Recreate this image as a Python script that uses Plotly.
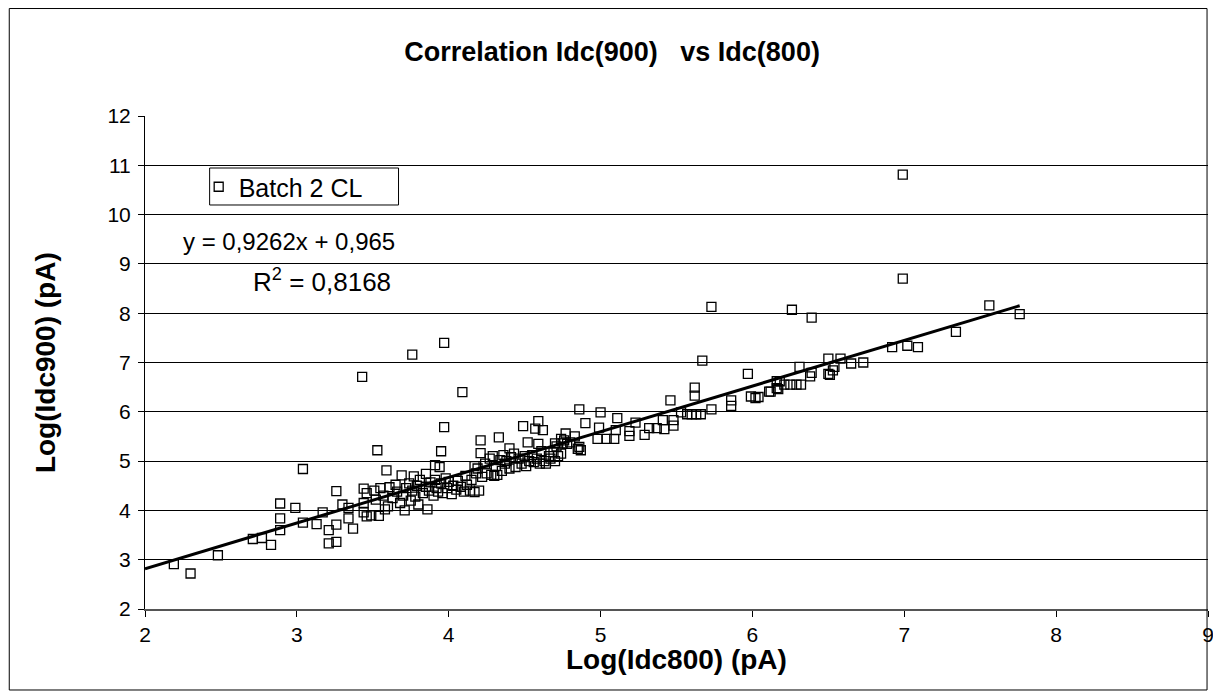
import numpy as np
import plotly.graph_objects as go

# Batch 2 CL: Log(Idc800) vs Log(Idc900)
low_x = [2.19, 2.30, 2.48, 2.71, 2.77, 2.83, 2.89, 2.89, 2.89, 2.99, 3.04, 3.04, 3.13, 3.17,
         3.21, 3.21, 3.26, 3.26, 3.26, 3.30, 3.34, 3.34, 3.37, 3.44, 3.44, 3.44, 3.46, 3.46]
low_y = [2.91, 2.72, 3.09, 3.42, 3.44, 3.30, 4.14, 3.84, 3.60, 4.05, 4.84, 3.75, 3.72, 3.96,
         3.60, 3.33, 4.39, 3.71, 3.36, 4.12, 4.05, 3.84, 3.63, 4.44, 4.15, 3.96, 4.35, 3.88]

upper_x = [3.43, 3.76, 3.97, 4.09, 3.97, 3.53, 3.95, 3.59, 4.21, 4.33, 4.21, 4.49, 4.59, 4.57,
           4.62, 4.52, 4.59, 4.40, 3.69, 3.77, 3.85, 3.91, 4.17]
upper_y = [6.71, 7.16, 7.40, 6.40, 5.69, 5.22, 5.20, 4.81, 5.42, 5.48, 5.16, 5.71, 5.81, 5.66,
           5.63, 5.38, 5.35, 5.26, 4.71, 4.69, 4.74, 4.92, 4.90]

band_x = [3.49, 3.51, 3.52, 3.54, 3.55, 3.57, 3.58, 3.60, 3.61, 3.63, 3.65, 3.66, 3.68, 3.70,
          3.71, 3.72, 3.74, 3.75, 3.76, 3.78, 3.79, 3.80, 3.81, 3.83, 3.85, 3.86, 3.87, 3.88,
          3.90, 3.91, 3.92, 3.93, 3.94, 3.95, 3.96, 3.98, 3.99, 4.00, 4.02, 4.03, 4.05, 4.06,
          4.08, 4.10, 4.11, 4.12, 4.14, 4.15, 4.17, 4.18, 4.19, 4.20, 4.22, 4.24, 4.25, 4.27,
          4.28, 4.29, 4.30, 4.31, 4.32, 4.34, 4.35, 4.36, 4.37, 4.38, 4.40, 4.41, 4.43, 4.44,
          4.46, 4.48, 4.50, 4.51, 4.53, 4.55, 4.56, 4.58, 4.60, 4.61, 4.63, 4.64, 4.66, 4.67,
          4.69, 4.70, 4.71, 4.72, 4.74, 4.76, 4.78, 4.80, 4.83, 4.85, 4.87]
band_y = [3.90, 4.40, 4.22, 3.89, 4.45, 4.30, 4.02, 4.08, 4.47, 4.25, 4.52, 4.38, 4.15, 4.30,
          4.00, 4.45, 4.55, 4.20, 4.40, 4.28, 4.50, 4.12, 4.62, 4.35, 4.48, 4.02, 4.40, 4.57,
          4.30, 4.62, 4.45, 4.38, 4.88, 4.55, 4.35, 4.65, 4.45, 4.58, 4.33, 4.50, 4.42, 4.60,
          4.48, 4.38, 4.70, 4.52, 4.40, 4.62, 4.37, 4.75, 4.85, 4.40, 4.68, 4.95, 4.75, 5.05,
          4.72, 5.10, 4.70, 4.90, 4.72, 5.02, 4.80, 5.12, 4.95, 5.00, 4.85, 5.08, 5.15, 4.88,
          5.05, 4.95, 5.10, 4.90, 5.00, 5.12, 4.98, 5.05, 4.95, 5.20, 5.00, 4.95, 5.10, 5.05,
          5.18, 5.00, 5.30, 5.10, 5.15, 5.42, 5.35, 5.38, 5.50, 5.25, 5.22]

mid_x = [5.73, 5.67, 5.97, 5.62, 5.62, 5.46, 4.86, 5.00, 5.11, 4.90, 4.99, 5.23, 5.73, 5.86,
         5.86, 5.99, 6.02, 6.12, 6.16, 6.16, 5.57, 5.60, 5.63, 5.66, 5.53, 5.41, 5.48, 5.48,
         5.42, 5.32, 5.37, 5.29, 5.19, 5.19, 5.10, 4.98, 5.04, 5.09, 4.77, 4.74, 4.70, 4.75, 4.86]
mid_y = [8.13, 7.04, 6.77, 6.49, 6.33, 6.23, 6.05, 5.99, 5.87, 5.77, 5.68, 5.78, 6.05, 6.23,
         6.12, 6.31, 6.28, 6.41, 6.62, 6.48, 5.95, 5.95, 5.95, 5.95, 5.99, 5.83, 5.83, 5.72,
         5.65, 5.67, 5.67, 5.53, 5.61, 5.51, 5.63, 5.45, 5.45, 5.45, 5.56, 5.45, 5.36, 5.36, 5.29]

high_x = [6.99, 6.99, 6.26, 6.39, 7.56, 7.34, 6.92, 7.02, 7.09, 6.50, 6.58, 6.65, 6.73, 6.31,
          6.39, 6.54, 6.53, 6.50, 6.51, 6.38, 6.18, 6.21, 6.25, 6.29, 6.32, 6.17, 6.11, 6.04, 7.76]
high_y = [10.81, 8.70, 8.07, 7.91, 8.16, 7.62, 7.31, 7.34, 7.31, 7.08, 7.08, 6.98, 7.00, 6.91,
          6.79, 6.91, 6.84, 6.77, 6.75, 6.72, 6.62, 6.55, 6.55, 6.55, 6.55, 6.46, 6.41, 6.30, 7.98]

# trendline reported on the chart (drawn from the axis start to the last point)
SLOPE = 0.9262
INTERCEPT = 0.965
R2 = 0.8168
X_MIN = 2

x = np.array(low_x + upper_x + band_x + mid_x + high_x)
y = np.array(low_y + upper_y + band_y + mid_y + high_y)

FONT = "Liberation Sans, Arial, sans-serif"

fig = go.Figure()
fig.add_trace(go.Scatter(
    x=x, y=y, mode="markers", name="Batch 2 CL",
    marker=dict(symbol="square-open", size=9, color="black", line=dict(width=1.3, color="black")),
))

line_x = np.array([X_MIN, x.max()])
fig.add_trace(go.Scatter(
    x=line_x, y=SLOPE * line_x + INTERCEPT, mode="lines",
    line=dict(color="black", width=3), showlegend=False, hoverinfo="skip",
))

fig.add_annotation(
    xref="paper", yref="paper", x=0.1356, y=0.746, xanchor="center", yanchor="middle",
    showarrow=False, text=f"y = {SLOPE:.4f}x + {INTERCEPT:.3f}".replace(".", ","),
    font=dict(family=FONT, size=24, color="black"),
)
fig.add_annotation(
    xref="paper", yref="paper", x=0.1665, y=0.667, xanchor="center", yanchor="middle",
    showarrow=False, text=f"R<sup>2</sup> = {R2:.4f}".replace(".", ","),
    font=dict(family=FONT, size=26, color="black"),
)

# axis titles
fig.add_annotation(
    xref="paper", yref="paper", x=0.5, y=-0.103, xanchor="center", yanchor="middle",
    showarrow=False, text="<b>Log(Idc800) (pA)</b>",
    font=dict(family=FONT, size=28, color="black"),
)
fig.add_annotation(
    xref="paper", yref="paper", x=-0.0935, y=0.5, xanchor="center", yanchor="middle",
    showarrow=False, textangle=-90, text="<b>Log(Idc900) (pA)</b>",
    font=dict(family=FONT, size=28, color="black"),
)

# outer chart frame
fig.add_shape(type="rect", xref="paper", yref="paper",
              x0=-0.1277, x1=0.9991, y0=-0.1643, y1=1.218,
              line=dict(color="black", width=1))
# legend box
fig.add_shape(type="rect", xref="paper", yref="paper", layer="above",
              x0=0.0608, x1=0.2385, y0=0.8195, y1=0.8945,
              fillcolor="white", line=dict(color="black", width=1))

fig.update_layout(
    width=1213, height=691,
    margin=dict(l=137, r=7, t=108, b=90),
    paper_bgcolor="white", plot_bgcolor="white",
    font=dict(family=FONT, color="black", size=20),
    title=dict(
        text="<b>Correlation Idc(900)\u00a0\u00a0 vs Idc(800)</b>",
        x=0.498, xanchor="center", y=1 - 44 / 691, yanchor="middle",
        font=dict(family=FONT, size=27, color="black"),
    ),
    showlegend=True,
    legend=dict(
        x=0.0505, y=0.9026, xanchor="left", yanchor="top",
        bgcolor="rgba(0,0,0,0)", borderwidth=0,
        font=dict(family=FONT, size=25, color="black"),
        itemsizing="trace", itemwidth=30,
    ),
)
fig.update_xaxes(
    range=[2, 9], dtick=1, tick0=2, showgrid=False, zeroline=False,
    showline=True, linecolor="#555555", linewidth=2,
    ticks="outside", ticklen=6, tickcolor="black", ticklabeloverflow="allow",
    tickfont=dict(family=FONT, size=21, color="black"),
)
fig.update_yaxes(
    range=[2, 12], dtick=1, tick0=2, showgrid=True, gridcolor="black", gridwidth=1,
    zeroline=False, showline=True, linecolor="black", linewidth=1,
    ticks="outside", ticklen=6, tickcolor="black", ticklabelstandoff=3,
    tickfont=dict(family=FONT, size=21, color="black"),
)

fig.write_html("out.html")
